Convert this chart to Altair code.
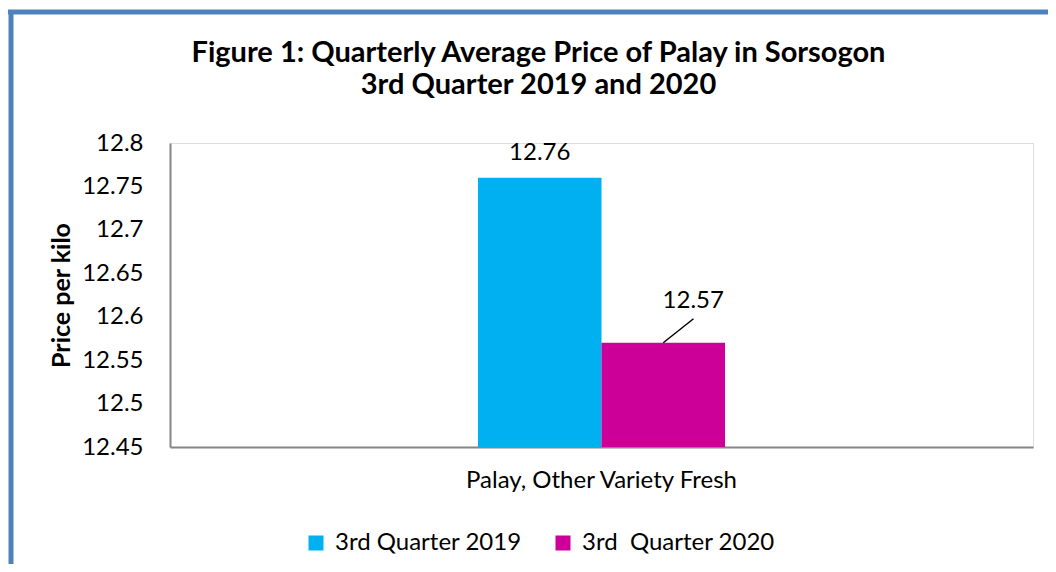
import altair as alt
import pandas as pd

# ---- data ----
category = ["Palay, Other Variety Fresh"]
series = ["3rd Quarter 2019", "3rd\u00a0 Quarter 2020"]
prices = [12.76, 12.57]
colors = ["#00B0F0", "#CC0099"]
y_ticks = [12.45, 12.5, 12.55, 12.6, 12.65, 12.7, 12.75, 12.8]
title_lines = ["Figure 1: Quarterly Average Price of Palay in Sorsogon",
               "3rd Quarter 2019 and 2020"]

df = pd.DataFrame({"cat": category * len(series), "series": series, "price": prices})
one = pd.DataFrame({"k": [0]})

W, H = 863, 304
FONT = "Lato"
BORDER = "#4F81BD"
FS = 24

x = alt.X("cat:N",
          scale=alt.Scale(paddingInner=0.198, paddingOuter=1),
          axis=alt.Axis(title=None, labelAngle=0, labelFontSize=FS, labelPadding=21,
                        labelLimit=1000, ticks=False, domainColor="#868686", domainWidth=2,
                        labelColor="black", labelFont=FONT))
xo = alt.XOffset("series:N", scale=alt.Scale(domain=series, paddingInner=0, paddingOuter=0))
y = alt.Y("price:Q",
          scale=alt.Scale(domain=[12.45, 12.8], zero=False, nice=False),
          axis=alt.Axis(values=y_ticks, format="~g", title="Price per kilo",
                        titleFontSize=25, titleFontWeight="bold", titleFont=FONT,
                        titleColor="black", titlePadding=7,
                        labelFontSize=FS, labelFont=FONT, labelColor="black",
                        labelPadding=27, ticks=False, grid=False,
                        domainColor="#868686", domainWidth=2))

color = alt.Color("series:N",
                  scale=alt.Scale(domain=series, range=colors),
                  legend=alt.Legend(title=None, orient="none", direction="horizontal",
                                    legendX=134, legendY=388, symbolType="square",
                                    symbolSize=225, symbolStrokeWidth=0,
                                    labelFontSize=FS, labelFont=FONT, labelColor="black",
                                    labelLimit=1000, labelOffset=7, columnPadding=29))

base = alt.Chart(df)

bars = base.mark_bar().encode(x=x, xOffset=xo, y=y, y2=alt.datum(12.45), color=color)

lab19 = base.transform_filter(alt.datum.series == series[0]).mark_text(
    font=FONT, fontSize=FS, baseline="alphabetic", dy=-18, color="black"
).encode(x=x, xOffset=xo, y=y, text=alt.Text("price:Q", format=".2f"))

lab20 = base.transform_filter(alt.datum.series == series[1]).mark_text(
    font=FONT, fontSize=FS, baseline="alphabetic", dx=30, dy=-35, color="black"
).encode(x=x, xOffset=xo, y=y, text=alt.Text("price:Q", format=".2f"))

leader = base.transform_filter(alt.datum.series == series[1]).mark_rule(
    color="black", strokeWidth=1.5, x2Offset=92, y2Offset=-24
).encode(x=x, xOffset=xo, y=y, x2=alt.X2("cat:N"), y2=alt.Y2("price:Q"))

border_top = alt.Chart(one).mark_rule(color=BORDER, strokeWidth=5).encode(
    x=alt.value(-170), x2=alt.value(W + 100), y=alt.value(-131))
border_left = alt.Chart(one).mark_rule(color=BORDER, strokeWidth=5).encode(
    x=alt.value(-159), y=alt.value(-133), y2=alt.value(H + 200))

chart = alt.layer(bars, leader, lab19, lab20, border_top, border_left).properties(
    width=W, height=H,
    autosize=alt.AutoSizeParams(type="none"),
    padding={"left": 162, "top": 135, "right": 15, "bottom": 117},
    title=alt.TitleParams(title_lines, font=FONT, fontSize=29, fontWeight="bold",
                          color="black", anchor="middle", dx=-63, lineHeight=32,
                          offset=12, dy=104),
).configure_view(stroke=None).configure(font=FONT)

chart.save("out.html", embed_options={"renderer": "svg", "actions": False})
